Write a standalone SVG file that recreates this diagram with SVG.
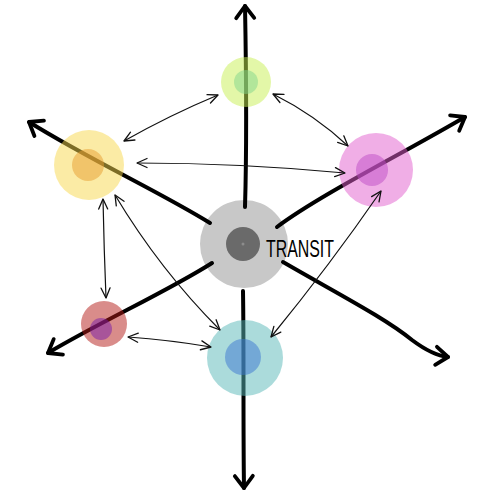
<svg xmlns="http://www.w3.org/2000/svg" width="479" height="495" viewBox="0 0 479 495">
<style>
.axis{fill:none;stroke:#000;stroke-width:4;stroke-linecap:round;stroke-linejoin:round;marker-end:url(#bigHead)}
.link{fill:none;stroke:#111;stroke-width:1.2;marker-start:url(#head);marker-end:url(#head)}
.outer{fill-opacity:0.5}
.inner{fill-opacity:0.5}
.label{font-family:"Liberation Sans",Arial,sans-serif;font-size:24px;fill:#000}
</style>
<defs>
<marker id="head" viewBox="0 0 10 10" refX="10" refY="5" markerWidth="10" markerHeight="10" markerUnits="userSpaceOnUse" orient="auto-start-reverse" overflow="visible">
<path d="M0,0.5 L10,5 L0,9.5" fill="none" stroke="#111" stroke-width="1.3" stroke-linecap="round" stroke-linejoin="round"/>
</marker>
<marker id="bigHead" viewBox="0 0 16 22" refX="14" refY="11" markerWidth="16" markerHeight="22" markerUnits="userSpaceOnUse" orient="auto" overflow="visible">
<path d="M2,2 L14,11 L2,20" fill="none" stroke="#000" stroke-width="3.8" stroke-linecap="round" stroke-linejoin="round"/>
</marker>
</defs>
<rect width="479" height="495" fill="#fff"/>
<g id="transit">
<circle cx="244" cy="244" r="44" fill="#c8c8c8"/>
<circle cx="243" cy="244" r="17" fill="#6a6a6a"/>
<circle cx="243" cy="244" r="1.5" fill="#8c8c8c"/>
<text class="label" x="266" y="257" textLength="68" lengthAdjust="spacingAndGlyphs">TRANSIT</text>
</g>
<g id="axis-connectors">
<path class="axis" d="M245,207 C247,140 246,60 245,6"/>
<path class="axis" d="M243,291 C244,350 243,420 244,488"/>
<path class="axis" d="M210,223 C160,192 90,160 29,122"/>
<path class="axis" d="M277,227 C320,195 400,155 465,117"/>
<path class="axis" d="M212,263 C170,290 100,322 48,353"/>
<path class="axis" d="M283,262 C340,295 385,318 412,340 C428,352 438,356 448,357"/>
</g>
<g id="green">
<circle class="outer" cx="246" cy="82" r="25" fill="#c7ef51"/>
<circle class="inner" cx="246" cy="82" r="12" fill="#81d58c"/>
</g>
<g id="pink">
<circle class="outer" cx="376" cy="170" r="37" fill="#e15dcd"/>
<circle class="inner" cx="372" cy="170" r="16" fill="#be4cc6"/>
</g>
<g id="yellow">
<circle class="outer" cx="89" cy="165" r="35" fill="#f7d74b"/>
<circle class="inner" cx="88" cy="165" r="16" fill="#e79d2f"/>
</g>
<g id="red">
<circle class="outer" cx="104" cy="324" r="23" fill="#b31915"/>
<circle class="inner" cx="101" cy="329" r="11" fill="#771caa"/>
</g>
<g id="blue">
<circle class="outer" cx="245" cy="358" r="38" fill="#57b7b7"/>
<circle class="inner" cx="243" cy="357" r="18" fill="#3b75d1"/>
</g>
<g id="link-connectors">
<path class="link" d="M218,95 Q170,115 124,141"/>
<path class="link" d="M273,94 Q315,115 348,146"/>
<path class="link" d="M137,163 Q240,163 345,173"/>
<path class="link" d="M103,199 Q104,250 106,298"/>
<path class="link" d="M115,195 Q160,270 220,330"/>
<path class="link" d="M128,337 Q170,340 211,347"/>
<path class="link" d="M381,191 Q330,265 271,337"/>
</g>
</svg>
